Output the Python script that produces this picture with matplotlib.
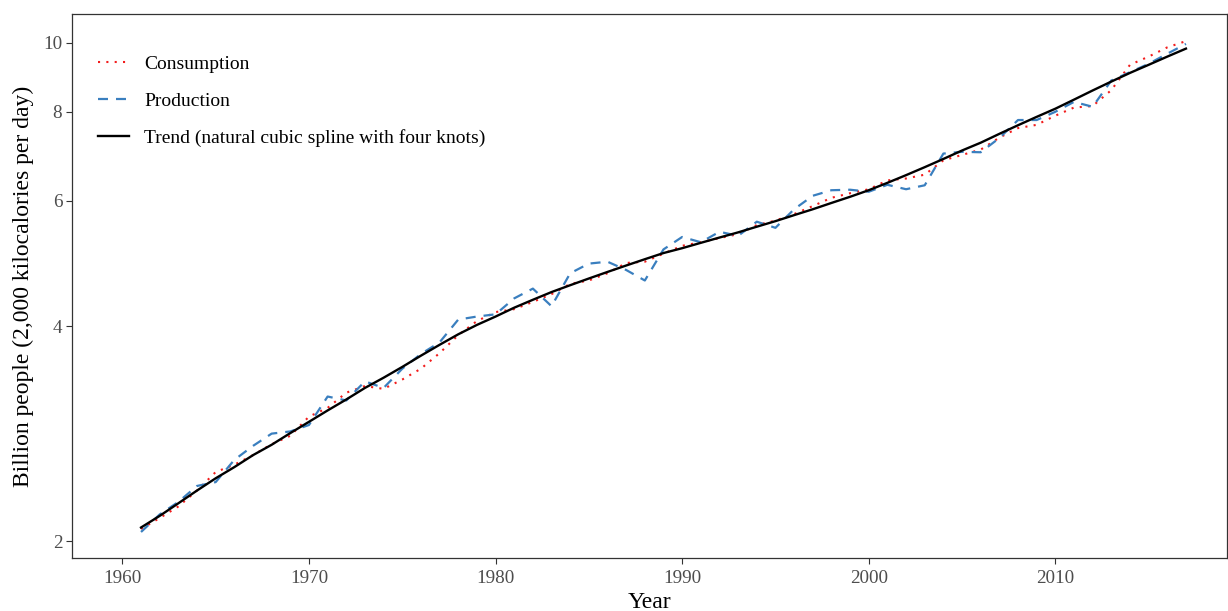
import matplotlib
matplotlib.use("Agg")
from matplotlib import pyplot as plt
from matplotlib.ticker import FixedLocator, NullLocator
import numpy as np

plt.rcParams['font.family'] = ['Liberation Serif', 'DejaVu Serif']

years = list(range(1961, 2018))

# billions of people fed (2,000 kcal/day)
consumption = [2.08, 2.155, 2.237, 2.355, 2.50, 2.56, 2.64, 2.735, 2.81, 2.99,
               3.075, 3.23, 3.30, 3.27, 3.37, 3.49, 3.67, 3.89, 4.07, 4.19,
               4.23, 4.33, 4.44, 4.59, 4.64, 4.75, 4.91, 4.93, 5.06, 5.19,
               5.25, 5.32, 5.39, 5.55, 5.63, 5.75, 5.90, 6.06, 6.15, 6.23,
               6.41, 6.45, 6.53, 6.84, 6.96, 7.08, 7.36, 7.59, 7.67, 7.90,
               8.11, 8.15, 8.58, 9.31, 9.56, 9.85, 10.05]

production = [2.06, 2.18, 2.27, 2.39, 2.42, 2.60, 2.72, 2.83, 2.85, 2.91,
              3.19, 3.15, 3.35, 3.28, 3.49, 3.66, 3.80, 4.09, 4.13, 4.16,
              4.38, 4.52, 4.27, 4.75, 4.90, 4.93, 4.80, 4.64, 5.13, 5.34,
              5.25, 5.43, 5.36, 5.61, 5.50, 5.84, 6.10, 6.21, 6.22, 6.18,
              6.32, 6.23, 6.31, 6.99, 7.03, 7.02, 7.35, 7.79, 7.79, 8.00,
              8.26, 8.13, 8.85, 9.09, 9.34, 9.65, 9.96]

trend = [2.09, 2.17, 2.26, 2.355, 2.45, 2.54, 2.64, 2.73, 2.835, 2.94,
         3.05, 3.16, 3.28, 3.39, 3.51, 3.64, 3.77, 3.90, 4.02, 4.13,
         4.25, 4.36, 4.47, 4.57, 4.67, 4.77, 4.87, 4.97, 5.07, 5.15,
         5.24, 5.33, 5.42, 5.52, 5.62, 5.73, 5.84, 5.96, 6.08, 6.21,
         6.36, 6.52, 6.69, 6.87, 7.06, 7.24, 7.45, 7.66, 7.87, 8.08,
         8.32, 8.57, 8.82, 9.07, 9.31, 9.56, 9.81]

xticks = [1960, 1970, 1980, 1990, 2000, 2010]
yticks = [2, 4, 6, 8, 10]

fig = plt.figure(figsize=(12.28, 6.11), dpi=100)
ax = fig.add_axes([72/1228, 1-558/611, 1155/1228, 544/611])

ax.plot(years, consumption, color='#f21c1c', linestyle=(0, (1, 3)), linewidth=1.5,
        label='Consumption')
ax.plot(years, production, color='#3a7fbf', linestyle=(0, (4.5, 3.6)), linewidth=1.6,
        label='Production')
ax.plot(years, trend, color='black', linewidth=1.7,
        label='Trend (natural cubic spline with four knots)')

ax.set_yscale('log')
ax.set_xlim(1957.3, 2019.2)
ax.set_ylim(1.894, 10.97)
ax.yaxis.set_major_locator(FixedLocator(yticks))
ax.yaxis.set_minor_locator(NullLocator())
ax.set_yticklabels([str(v) for v in yticks])
ax.set_xticks(xticks)

for s in ax.spines.values():
    s.set_color('#333333')
    s.set_linewidth(0.9)
ax.tick_params(axis='both', which='major', length=4, width=0.8, color='#333333',
               labelcolor='#4d4d4d', labelsize=13.8)
ax.tick_params(axis='x', pad=4.5)
ax.tick_params(axis='y', pad=3)

ax.set_xlabel('Year', fontsize=17)
ax.set_ylabel('Billion people (2,000 kilocalories per day)', fontsize=17)
ax.xaxis.set_label_coords(0.5, -0.062)
ax.yaxis.set_label_coords(-0.033, 0.5)

ax.legend(loc='upper left', bbox_to_anchor=(0.006, 0.96), frameon=False, fontsize=14,
          handlelength=1.6, handletextpad=0.75, labelspacing=1.0, borderaxespad=0.6)

plt.savefig('out.png', dpi=100)
